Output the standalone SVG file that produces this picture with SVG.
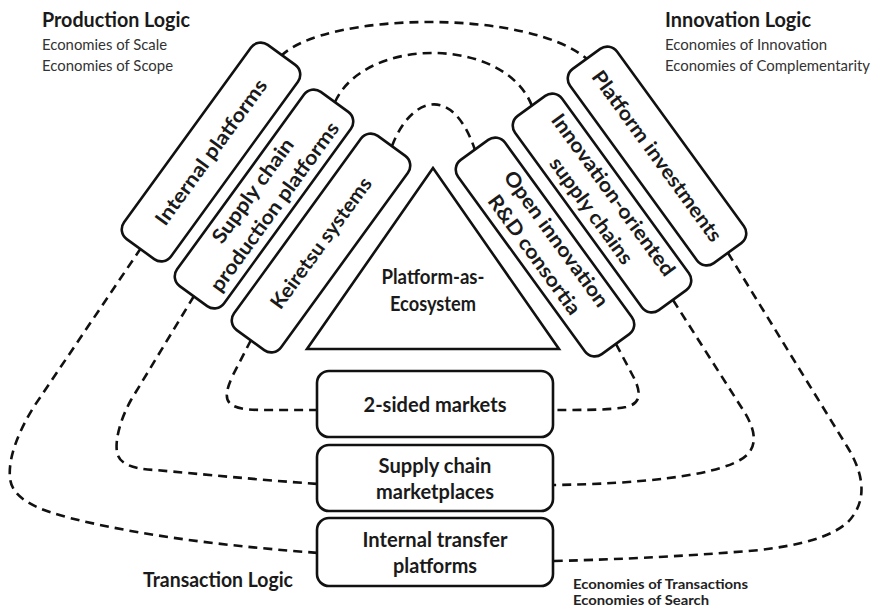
<svg xmlns="http://www.w3.org/2000/svg" width="873" height="608" viewBox="0 0 873 608">
<style>
.box{fill:#fff;stroke:#111;stroke-width:2.6}
.dash{fill:none;stroke:#111;stroke-width:2.6;stroke-dasharray:9 6}
.t{font-family:Lato,"Open Sans","Liberation Sans",sans-serif;font-weight:700;fill:#1a1a1a;text-anchor:middle;font-size:20px}
.h{font-family:Lato,"Open Sans","Liberation Sans",sans-serif;font-weight:700;fill:#1a1a1a;font-size:20px}
.s{font-family:Lato,"Open Sans","Liberation Sans",sans-serif;font-weight:400;fill:#333;font-size:15px}
.sb{font-family:Lato,"Open Sans","Liberation Sans",sans-serif;font-weight:700;fill:#222;font-size:12.5px}
</style>
<rect width="873" height="608" fill="#fff"/>
<g id="connectors">
<path class="dash" d="M281,56 C325,12 530,8 588,60"/>
<path class="dash" d="M335,102 C365,36 505,36 532,106"/>
<path class="dash" d="M392,146 C410,98 452,82 475,150"/>
<path class="dash" d="M141,248 L35,405 C18,432 8,458 10,478 C12,500 40,510 70,518 C150,538 240,547 319,553"/>
<path class="dash" d="M194,296 L131,400 C120,420 115,440 117,452 C119,465 135,469 155,470 C200,474 260,480 319,484"/>
<path class="dash" d="M251,340 L233,375 C226,390 224,400 232,405 C240,410 255,410 270,410 L319,410"/>
<path class="dash" d="M728,253 L848,448 C866,478 866,503 848,522 C830,538 800,545 760,550 C680,557 600,560 551,561"/>
<path class="dash" d="M673,300 L745,413 C757,433 758,450 740,460 C712,476 640,484 551,485"/>
<path class="dash" d="M616,344 L634,378 C642,394 640,404 626,407 C610,410 590,410 551,410"/>
</g>
<g id="internal-platforms" transform="translate(211,152) rotate(-54)">
<rect class="box" x="-120" y="-29" width="240" height="58" rx="12"/>
<text class="t" x="0" y="7" textLength="175" lengthAdjust="spacingAndGlyphs">Internal platforms</text>
</g>
<g id="supply-chain-production-platforms" transform="translate(264,199) rotate(-54)">
<rect class="box" x="-120" y="-29" width="240" height="58" rx="12"/>
<text class="t" x="0" y="-7" textLength="124" lengthAdjust="spacingAndGlyphs">Supply chain</text>
<text class="t" x="0" y="20" textLength="204" lengthAdjust="spacingAndGlyphs">production platforms</text>
</g>
<g id="keiretsu-systems" transform="translate(321,243) rotate(-54)">
<rect class="box" x="-120" y="-29" width="240" height="58" rx="12"/>
<text class="t" x="0" y="7" textLength="157" lengthAdjust="spacingAndGlyphs">Keiretsu systems</text>
</g>
<g id="platform-investments" transform="translate(657,156) rotate(54)">
<rect class="box" x="-120" y="-29" width="240" height="58" rx="12"/>
<text class="t" x="0" y="7" textLength="206" lengthAdjust="spacingAndGlyphs">Platform investments</text>
</g>
<g id="innovation-oriented-supply-chains" transform="translate(602,203) rotate(54)">
<rect class="box" x="-120" y="-29" width="240" height="58" rx="12"/>
<text class="t" x="0" y="-7" textLength="195" lengthAdjust="spacingAndGlyphs">Innovation-oriented</text>
<text class="t" x="0" y="20" textLength="127" lengthAdjust="spacingAndGlyphs">supply chains</text>
</g>
<g id="open-innovation-rd-consortia" transform="translate(545,247) rotate(54)">
<rect class="box" x="-120" y="-29" width="240" height="58" rx="12"/>
<text class="t" x="0" y="-7" textLength="163" lengthAdjust="spacingAndGlyphs">Open innovation</text>
<text class="t" x="0" y="20" textLength="143" lengthAdjust="spacingAndGlyphs">R&amp;D consortia</text>
</g>
<g id="platform-as-ecosystem">
<polygon class="box" points="433,168 307,349 559,349"/>
<text class="t" x="433" y="284" font-size="19" textLength="103" lengthAdjust="spacingAndGlyphs">Platform-as-</text>
<text class="t" x="433" y="311" font-size="19" textLength="86" lengthAdjust="spacingAndGlyphs">Ecosystem</text>
</g>
<g id="two-sided-markets">
<rect class="box" x="317" y="371" width="236" height="66" rx="12"/>
<text class="t" x="435" y="412" font-size="19" textLength="143" lengthAdjust="spacingAndGlyphs">2-sided markets</text>
</g>
<g id="supply-chain-marketplaces">
<rect class="box" x="317" y="445" width="236" height="66" rx="12"/>
<text class="t" x="435" y="473" font-size="19" textLength="113" lengthAdjust="spacingAndGlyphs">Supply chain</text>
<text class="t" x="435" y="499" font-size="19" textLength="118" lengthAdjust="spacingAndGlyphs">marketplaces</text>
</g>
<g id="internal-transfer-platforms">
<rect class="box" x="317" y="518" width="236" height="68" rx="12"/>
<text class="t" x="435" y="547" font-size="19" textLength="145" lengthAdjust="spacingAndGlyphs">Internal transfer</text>
<text class="t" x="435" y="573" font-size="19" textLength="84" lengthAdjust="spacingAndGlyphs">platforms</text>
</g>
<g id="production-logic">
<text class="h" x="42" y="27" textLength="148" lengthAdjust="spacingAndGlyphs">Production Logic</text>
<text class="s" x="42" y="50" textLength="125" lengthAdjust="spacingAndGlyphs">Economies of Scale</text>
<text class="s" x="42" y="71" textLength="131" lengthAdjust="spacingAndGlyphs">Economies of Scope</text>
</g>
<g id="innovation-logic">
<text class="h" x="665" y="27" textLength="146" lengthAdjust="spacingAndGlyphs">Innovation Logic</text>
<text class="s" x="665" y="50" textLength="162" lengthAdjust="spacingAndGlyphs">Economies of Innovation</text>
<text class="s" x="665" y="71" textLength="205" lengthAdjust="spacingAndGlyphs">Economies of Complementarity</text>
</g>
<g id="transaction-logic">
<text class="h" x="143" y="587" textLength="150" lengthAdjust="spacingAndGlyphs">Transaction Logic</text>
<text class="sb" x="573" y="589" textLength="175" lengthAdjust="spacingAndGlyphs">Economies of Transactions</text>
<text class="sb" x="573" y="605" textLength="136" lengthAdjust="spacingAndGlyphs">Economies of Search</text>
</g>
</svg>
